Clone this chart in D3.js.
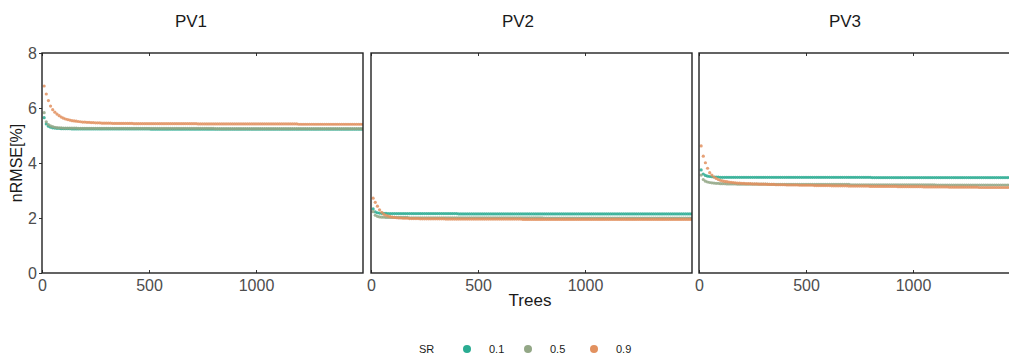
<!DOCTYPE html>
<html>
<head>
<meta charset="utf-8">
<script src="https://cdn.jsdelivr.net/npm/d3@7/dist/d3.min.js"></script>
<style>
  html, body { margin: 0; padding: 0; background: #fff; }
  svg { display: block; font-family: "Liberation Sans", Arial, sans-serif; }
</style>
</head>
<body>
<svg id="chart" width="1009" height="357"></svg>
<script>
// Number of trees in the forest (x positions, every 10 trees)
const trees = d3.range(10, 1501, 10);

const panels = ["PV1", "PV2", "PV3"];
const srLevels = ["0.1", "0.5", "0.9"];
const yTicks = [0, 2, 4, 6, 8];
const xTicks = [0, 500, 1000];

// nRMSE [%] per number of trees, one array per panel and sample rate
const pv1_sr01 = [
  5.65,5.42,5.34,5.30,5.28,5.27,5.26,5.26,5.25,5.25,
  5.25,5.25,5.25,5.24,5.24,5.24,5.24,5.24,5.24,5.24,
  5.24,5.24,5.24,5.24,5.24,5.24,5.24,5.24,5.24,5.24,
  5.24,5.24,5.24,5.24,5.24,5.24,5.24,5.24,5.24,5.24,
  5.24,5.24,5.24,5.24,5.24,5.24,5.24,5.24,5.24,5.24,
  5.23,5.23,5.23,5.23,5.23,5.23,5.23,5.23,5.23,5.23,
  5.23,5.23,5.23,5.23,5.23,5.23,5.23,5.23,5.23,5.23,
  5.23,5.23,5.23,5.23,5.23,5.23,5.23,5.23,5.23,5.23,
  5.23,5.23,5.23,5.23,5.23,5.23,5.23,5.23,5.23,5.23,
  5.23,5.23,5.23,5.23,5.23,5.23,5.23,5.23,5.23,5.23,
  5.23,5.23,5.23,5.23,5.23,5.23,5.23,5.23,5.23,5.23,
  5.23,5.23,5.23,5.23,5.23,5.23,5.23,5.23,5.23,5.23,
  5.23,5.23,5.23,5.23,5.23,5.23,5.23,5.23,5.23,5.23,
  5.23,5.23,5.23,5.23,5.23,5.23,5.23,5.23,5.23,5.23,
  5.23,5.23,5.23,5.23,5.23,5.23,5.23,5.23,5.23,5.23
];
const pv1_sr05 = [
  5.83,5.50,5.40,5.35,5.32,5.30,5.29,5.28,5.28,5.27,
  5.27,5.27,5.27,5.27,5.27,5.27,5.26,5.26,5.26,5.26,
  5.26,5.26,5.26,5.26,5.26,5.26,5.26,5.26,5.26,5.26,
  5.26,5.26,5.26,5.26,5.26,5.26,5.26,5.26,5.26,5.26,
  5.26,5.26,5.26,5.26,5.26,5.26,5.26,5.26,5.26,5.26,
  5.26,5.26,5.26,5.26,5.26,5.26,5.26,5.26,5.26,5.26,
  5.26,5.26,5.26,5.26,5.26,5.26,5.26,5.26,5.26,5.26,
  5.26,5.26,5.26,5.26,5.26,5.26,5.26,5.26,5.26,5.26,
  5.25,5.25,5.25,5.25,5.25,5.25,5.25,5.25,5.25,5.25,
  5.25,5.25,5.25,5.25,5.25,5.25,5.25,5.25,5.25,5.25,
  5.25,5.25,5.25,5.25,5.25,5.25,5.25,5.25,5.25,5.25,
  5.25,5.25,5.25,5.25,5.25,5.25,5.25,5.25,5.25,5.25,
  5.25,5.25,5.25,5.25,5.25,5.25,5.25,5.25,5.25,5.25,
  5.25,5.25,5.25,5.25,5.25,5.25,5.25,5.25,5.25,5.25,
  5.25,5.25,5.25,5.25,5.25,5.25,5.25,5.25,5.25,5.25
];
const pv1_sr09 = [
  6.80,6.51,6.27,6.07,5.94,5.85,5.78,5.72,5.67,5.63,
  5.60,5.58,5.56,5.54,5.53,5.52,5.51,5.50,5.49,5.49,
  5.48,5.48,5.47,5.47,5.46,5.46,5.46,5.45,5.45,5.45,
  5.45,5.45,5.44,5.44,5.44,5.44,5.44,5.44,5.44,5.44,
  5.44,5.44,5.43,5.43,5.43,5.43,5.43,5.43,5.43,5.43,
  5.43,5.43,5.43,5.43,5.43,5.43,5.43,5.43,5.43,5.43,
  5.43,5.43,5.43,5.43,5.43,5.43,5.43,5.43,5.43,5.43,
  5.43,5.43,5.42,5.42,5.42,5.42,5.42,5.42,5.42,5.42,
  5.42,5.42,5.42,5.42,5.42,5.42,5.42,5.42,5.42,5.42,
  5.42,5.42,5.42,5.42,5.42,5.42,5.42,5.42,5.42,5.42,
  5.42,5.42,5.42,5.42,5.42,5.42,5.42,5.42,5.42,5.42,
  5.42,5.42,5.42,5.42,5.42,5.42,5.42,5.42,5.42,5.41,
  5.41,5.41,5.41,5.41,5.41,5.41,5.41,5.41,5.41,5.41,
  5.41,5.41,5.41,5.41,5.41,5.41,5.41,5.41,5.41,5.41,
  5.41,5.41,5.41,5.41,5.41,5.41,5.41,5.41,5.41,5.41
];

const pv2_sr01 = [
  2.33,2.22,2.19,2.18,2.17,2.17,2.17,2.16,2.16,2.16,
  2.16,2.16,2.16,2.16,2.16,2.16,2.16,2.16,2.16,2.16,
  2.16,2.16,2.16,2.16,2.16,2.16,2.16,2.16,2.16,2.16,
  2.16,2.16,2.16,2.16,2.16,2.16,2.16,2.16,2.16,2.16,
  2.15,2.15,2.15,2.15,2.15,2.15,2.15,2.15,2.15,2.15,
  2.15,2.15,2.15,2.15,2.15,2.15,2.15,2.15,2.15,2.15,
  2.15,2.15,2.15,2.15,2.15,2.15,2.15,2.15,2.15,2.15,
  2.15,2.15,2.15,2.15,2.15,2.15,2.15,2.15,2.15,2.15,
  2.15,2.15,2.15,2.15,2.15,2.15,2.15,2.15,2.15,2.15,
  2.15,2.15,2.15,2.15,2.15,2.15,2.15,2.15,2.15,2.15,
  2.15,2.15,2.15,2.15,2.15,2.15,2.15,2.15,2.15,2.15,
  2.15,2.15,2.15,2.15,2.15,2.15,2.15,2.15,2.15,2.15,
  2.15,2.15,2.15,2.15,2.15,2.15,2.15,2.15,2.15,2.15,
  2.15,2.15,2.15,2.15,2.15,2.15,2.15,2.15,2.15,2.15,
  2.15,2.15,2.15,2.15,2.15,2.15,2.15,2.15,2.15,2.15
];
const pv2_sr05 = [
  2.23,2.10,2.06,2.04,2.03,2.03,2.02,2.02,2.02,2.02,
  2.02,2.02,2.02,2.02,2.02,2.02,2.02,2.01,2.01,2.01,
  2.01,2.01,2.01,2.01,2.01,2.01,2.01,2.01,2.01,2.01,
  2.01,2.01,2.01,2.01,2.01,2.01,2.01,2.01,2.01,2.01,
  2.01,2.01,2.01,2.01,2.01,2.01,2.01,2.01,2.01,2.01,
  2.01,2.01,2.01,2.01,2.01,2.01,2.01,2.01,2.01,2.01,
  2.01,2.01,2.01,2.01,2.01,2.01,2.01,2.01,2.01,2.01,
  2.01,2.01,2.01,2.01,2.01,2.01,2.01,2.01,2.01,2.01,
  2.00,2.00,2.00,2.00,2.00,2.00,2.00,2.00,2.00,2.00,
  2.00,2.00,2.00,2.00,2.00,2.00,2.00,2.00,2.00,2.00,
  2.00,2.00,2.00,2.00,2.00,2.00,2.00,2.00,2.00,2.00,
  2.00,2.00,2.00,2.00,2.00,2.00,2.00,2.00,2.00,2.00,
  2.00,2.00,2.00,2.00,2.00,2.00,2.00,2.00,2.00,2.00,
  2.00,2.00,2.00,2.00,2.00,2.00,2.00,2.00,2.00,2.00,
  2.00,2.00,2.00,2.00,2.00,2.00,2.00,2.00,2.00,2.00
];
const pv2_sr09 = [
  2.72,2.57,2.43,2.30,2.21,2.14,2.10,2.07,2.05,2.03,
  2.02,2.01,2.00,2.00,1.99,1.99,1.99,1.98,1.98,1.98,
  1.98,1.98,1.97,1.97,1.97,1.97,1.97,1.97,1.97,1.97,
  1.97,1.97,1.97,1.97,1.96,1.96,1.96,1.96,1.96,1.96,
  1.96,1.96,1.96,1.96,1.96,1.96,1.96,1.96,1.96,1.96,
  1.96,1.96,1.96,1.96,1.96,1.96,1.96,1.96,1.96,1.96,
  1.96,1.96,1.96,1.96,1.96,1.96,1.96,1.96,1.96,1.96,
  1.95,1.95,1.95,1.95,1.95,1.95,1.95,1.95,1.95,1.95,
  1.95,1.95,1.95,1.95,1.95,1.95,1.95,1.95,1.95,1.95,
  1.95,1.95,1.95,1.95,1.95,1.95,1.95,1.95,1.95,1.95,
  1.95,1.95,1.95,1.95,1.95,1.95,1.95,1.95,1.95,1.95,
  1.95,1.95,1.95,1.95,1.95,1.95,1.95,1.95,1.95,1.95,
  1.95,1.95,1.95,1.95,1.95,1.95,1.95,1.95,1.95,1.95,
  1.95,1.95,1.95,1.95,1.95,1.95,1.95,1.95,1.95,1.95,
  1.95,1.95,1.95,1.95,1.95,1.95,1.95,1.95,1.95,1.95
];

const pv3_sr01 = [
  3.75,3.60,3.55,3.52,3.51,3.50,3.49,3.49,3.49,3.48,
  3.48,3.48,3.48,3.48,3.48,3.48,3.48,3.48,3.48,3.48,
  3.48,3.48,3.48,3.48,3.48,3.48,3.48,3.48,3.48,3.48,
  3.48,3.48,3.48,3.48,3.48,3.48,3.48,3.48,3.48,3.48,
  3.48,3.48,3.48,3.48,3.48,3.48,3.48,3.48,3.48,3.48,
  3.48,3.48,3.48,3.48,3.48,3.48,3.48,3.48,3.48,3.48,
  3.48,3.48,3.48,3.48,3.48,3.48,3.48,3.48,3.48,3.48,
  3.48,3.48,3.48,3.48,3.48,3.48,3.48,3.48,3.48,3.48,
  3.47,3.47,3.47,3.47,3.47,3.47,3.47,3.47,3.47,3.47,
  3.47,3.47,3.47,3.47,3.47,3.47,3.47,3.47,3.47,3.47,
  3.47,3.47,3.47,3.47,3.47,3.47,3.47,3.47,3.47,3.47,
  3.47,3.47,3.47,3.47,3.47,3.47,3.47,3.47,3.47,3.47,
  3.47,3.47,3.47,3.47,3.47,3.47,3.47,3.47,3.47,3.47,
  3.47,3.47,3.47,3.47,3.47,3.47,3.47,3.47,3.47,3.47,
  3.47,3.47,3.47,3.47,3.47,3.47,3.47,3.47,3.47,3.47
];
const pv3_sr05 = [
  3.56,3.40,3.34,3.31,3.29,3.28,3.27,3.26,3.26,3.25,
  3.25,3.25,3.24,3.24,3.24,3.24,3.24,3.23,3.23,3.23,
  3.23,3.23,3.23,3.23,3.23,3.23,3.23,3.23,3.23,3.23,
  3.23,3.23,3.22,3.22,3.22,3.22,3.22,3.22,3.22,3.22,
  3.22,3.22,3.22,3.22,3.22,3.22,3.22,3.22,3.22,3.22,
  3.22,3.22,3.22,3.22,3.22,3.22,3.22,3.22,3.22,3.22,
  3.22,3.22,3.22,3.22,3.22,3.22,3.22,3.22,3.22,3.22,
  3.21,3.21,3.21,3.21,3.21,3.21,3.21,3.21,3.21,3.21,
  3.21,3.21,3.21,3.21,3.21,3.21,3.21,3.21,3.21,3.21,
  3.21,3.21,3.21,3.21,3.21,3.21,3.21,3.21,3.21,3.21,
  3.21,3.21,3.21,3.21,3.21,3.21,3.21,3.21,3.21,3.21,
  3.20,3.20,3.20,3.20,3.20,3.20,3.20,3.20,3.20,3.20,
  3.20,3.20,3.20,3.20,3.20,3.20,3.20,3.20,3.20,3.20,
  3.20,3.20,3.20,3.20,3.20,3.20,3.20,3.20,3.20,3.20,
  3.20,3.20,3.20,3.20,3.20,3.20,3.20,3.20,3.20,3.20
];
const pv3_sr09 = [
  4.62,4.25,4.01,3.81,3.65,3.56,3.49,3.44,3.40,3.37,
  3.35,3.33,3.32,3.31,3.30,3.29,3.28,3.27,3.27,3.26,
  3.26,3.25,3.25,3.25,3.24,3.24,3.24,3.23,3.23,3.23,
  3.23,3.22,3.22,3.22,3.22,3.21,3.21,3.21,3.21,3.21,
  3.20,3.20,3.20,3.20,3.20,3.20,3.19,3.19,3.19,3.19,
  3.19,3.19,3.19,3.18,3.18,3.18,3.18,3.18,3.18,3.18,
  3.18,3.17,3.17,3.17,3.17,3.17,3.17,3.17,3.17,3.16,
  3.16,3.16,3.16,3.16,3.16,3.16,3.16,3.16,3.16,3.15,
  3.15,3.15,3.15,3.15,3.15,3.15,3.15,3.15,3.15,3.15,
  3.15,3.15,3.14,3.14,3.14,3.14,3.14,3.14,3.14,3.14,
  3.14,3.14,3.14,3.14,3.13,3.13,3.13,3.13,3.13,3.13,
  3.13,3.13,3.13,3.13,3.13,3.13,3.12,3.12,3.12,3.12,
  3.12,3.12,3.12,3.12,3.12,3.12,3.12,3.12,3.12,3.12,
  3.11,3.11,3.11,3.11,3.11,3.11,3.11,3.11,3.11,3.11,
  3.11,3.11,3.11,3.11,3.11,3.11,3.11,3.11,3.11,3.11
];

const seriesByPanel = {
  PV1: [pv1_sr01, pv1_sr05, pv1_sr09],
  PV2: [pv2_sr01, pv2_sr05, pv2_sr09],
  PV3: [pv3_sr01, pv3_sr05, pv3_sr09]
};

const colors = ["#2aac92", "#93a786", "#e2915f"];

const svg = d3.select("#chart");

const panelLeft = [42, 371, 699];
const panelW = 321;
const plotTop = 53, plotBottom = 273;

const y = d3.scaleLinear().domain([0, 8]).range([plotBottom, plotTop]);
const color = d3.scaleOrdinal().domain(srLevels).range(colors);

const titleX = [191, 518, 845];

panels.forEach((name, i) => {
  const x0 = panelLeft[i];
  const x = d3.scaleLinear().domain([0, 1500]).range([x0, x0 + panelW]);

  const clipId = "clip-" + name;
  svg.append("clipPath").attr("id", clipId)
    .append("rect").attr("x", x0).attr("y", plotTop).attr("width", panelW).attr("height", plotBottom - plotTop);

  const g = svg.append("g");

  // data points, lowest sample rate first
  srLevels.forEach((sr, k) => {
    const vals = seriesByPanel[name][k];
    g.append("g").attr("clip-path", `url(#${clipId})`)
      .selectAll("circle")
      .data(trees.map((t, j) => [t, vals[j]]))
      .join("circle")
      .attr("cx", d => x(d[0]))
      .attr("cy", d => y(d[1]))
      .attr("r", 1.6)
      .attr("fill", color(sr))
      .attr("fill-opacity", 0.85);
  });

  // bottom axis (inward ticks)
  const xb = g.append("g").attr("transform", `translate(0,${plotBottom})`)
    .call(d3.axisBottom(x).tickValues(xTicks).tickFormat(d3.format("d"))
      .tickSizeInner(-3).tickSizeOuter(0).tickPadding(7));
  xb.select(".domain").remove();
  xb.selectAll("line").attr("stroke", "#333");
  xb.selectAll("text").attr("font-size", 16).attr("fill", "#4d4d4d")
    .attr("font-family", "Liberation Sans, Arial, sans-serif");

  // top axis ticks (mirror)
  const xt = g.append("g").attr("transform", `translate(0,${plotTop})`)
    .call(d3.axisTop(x).tickValues(xTicks).tickSizeInner(-3).tickSizeOuter(0).tickFormat(""));
  xt.select(".domain").remove();
  xt.selectAll("line").attr("stroke", "#333");

  // left axis
  const ya = g.append("g").attr("transform", `translate(${x0},0)`)
    .call(d3.axisLeft(y).tickValues(yTicks).tickSizeInner(i === 0 ? 3 : 0).tickSizeOuter(0).tickPadding(2)
      .tickFormat(i === 0 ? d3.format("d") : ""));
  ya.select(".domain").remove();
  ya.selectAll("line").attr("stroke", "#333");
  ya.selectAll("text").attr("font-size", 16).attr("fill", "#4d4d4d")
    .attr("font-family", "Liberation Sans, Arial, sans-serif");

  // panel border
  g.append("rect")
    .attr("x", x0).attr("y", plotTop)
    .attr("width", panelW).attr("height", plotBottom - plotTop)
    .attr("fill", "none").attr("stroke", "#222").attr("stroke-width", 1.4);

  // panel title
  svg.append("text")
    .attr("x", titleX[i]).attr("y", 27)
    .attr("text-anchor", "middle")
    .attr("font-size", 17).attr("fill", "#1a1a1a")
    .text(name);
});

// axis titles
svg.append("text")
  .attr("x", 530).attr("y", 306)
  .attr("text-anchor", "middle")
  .attr("font-size", 17).attr("fill", "#1a1a1a")
  .text("Trees");

svg.append("text")
  .attr("transform", "translate(22,163) rotate(-90)")
  .attr("text-anchor", "middle")
  .attr("font-size", 16).attr("fill", "#1a1a1a")
  .text("nRMSE[%]");

// legend
const legend = svg.append("g").attr("font-size", 11).attr("fill", "#1a1a1a");
legend.append("text").attr("x", 419).attr("y", 353).text("SR");
const legendX = [467, 528, 594];
srLevels.forEach((sr, k) => {
  legend.append("circle").attr("cx", legendX[k]).attr("cy", 349).attr("r", 4).attr("fill", color(sr));
  legend.append("text").attr("x", legendX[k] + 22).attr("y", 353).text(sr);
});
</script>
</body>
</html>
